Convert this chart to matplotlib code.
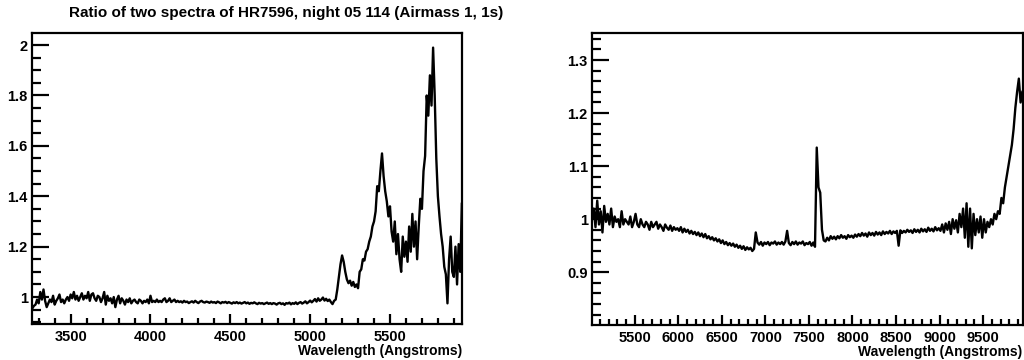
import numpy as np
import matplotlib.pyplot as plt
from matplotlib.ticker import MultipleLocator, AutoMinorLocator, FormatStrFormatter

plt.rcParams['font.family'] = ['Liberation Sans', 'DejaVu Sans']
plt.rcParams['font.weight'] = 'bold'

title = "Ratio of two spectra of HR7596, night 05 114 (Airmass 1, 1s)"
xlabel = "Wavelength (Angstroms)"

# blue part of the ratio, sampled every 10 A from 3260 to 5950
wl_blue = np.arange(3260, 5951, 10)
ratio_blue = [
    0.955, 0.965, 0.97, 0.99, 0.975, 1.02, 0.99, 1.03, 0.985, 0.96,
    0.975, 0.99, 0.98, 1.005, 0.97, 0.985, 0.995, 1.01, 0.98, 0.99,
    0.975, 0.99, 1.0, 0.985, 1.01, 0.995, 1.02, 0.99, 1.005, 0.985,
    1.0, 1.015, 0.99, 1.005, 0.995, 1.02, 0.985, 1.01, 1.015, 0.995,
    0.985, 1.005, 1.0, 0.98, 0.995, 1.02, 0.97, 1.005, 0.985, 0.995,
    0.975, 1.0, 0.96, 0.99, 1.005, 0.975, 0.995, 0.985, 0.97, 0.99,
    0.98, 0.995, 0.975, 0.985, 0.99, 0.98, 0.975, 0.99, 0.985, 0.975,
    0.985, 0.98, 0.99, 0.975, 1.005, 0.98, 0.985, 0.98, 0.99, 0.98,
    0.985, 0.98, 0.99, 0.995, 0.98, 0.985, 0.995, 0.98, 0.985, 0.99,
    0.98, 0.985, 0.98, 0.983, 0.978, 0.985, 0.98, 0.982, 0.976, 0.98,
    0.983, 0.978, 0.985, 0.98, 0.976, 0.982, 0.985, 0.98, 0.978, 0.982,
    0.98, 0.977, 0.982, 0.978, 0.98, 0.976, 0.982, 0.979, 0.975, 0.98,
    0.978, 0.981, 0.976, 0.98, 0.977, 0.974, 0.979, 0.976, 0.98, 0.975,
    0.978, 0.974, 0.977, 0.98, 0.975, 0.978, 0.973, 0.977, 0.975, 0.979,
    0.975, 0.972, 0.977, 0.974, 0.976, 0.972, 0.975, 0.978, 0.973, 0.976,
    0.972, 0.976, 0.974, 0.97, 0.975, 0.977, 0.972, 0.975, 0.969, 0.976,
    0.974, 0.978, 0.971, 0.976, 0.973, 0.979, 0.972, 0.977, 0.98, 0.974,
    0.978, 0.983, 0.975, 0.98, 0.986, 0.979, 0.985, 0.992, 0.982, 0.995,
    0.985, 0.99, 0.998, 0.986, 0.993, 0.984, 0.99, 0.98, 0.972, 0.985,
    0.99, 1.03, 1.08, 1.13, 1.165, 1.14, 1.10, 1.07, 1.055, 1.065,
    1.045, 1.06, 1.04, 1.05, 1.035, 1.10, 1.11, 1.15, 1.145, 1.18,
    1.19, 1.22, 1.24, 1.28, 1.30, 1.34, 1.44, 1.42, 1.50, 1.57,
    1.48, 1.42, 1.38, 1.32, 1.36, 1.26, 1.22, 1.30, 1.17, 1.25,
    1.15, 1.10, 1.24, 1.16, 1.22, 1.14, 1.28, 1.18, 1.33, 1.20,
    1.30, 1.15, 1.28, 1.39, 1.35, 1.50, 1.56, 1.80, 1.72, 1.88,
    1.76, 1.99, 1.80, 1.55, 1.40, 1.32, 1.25, 1.20, 1.12, 1.09,
    0.975, 1.15, 1.24, 1.10, 1.08, 1.20, 1.05, 1.21, 1.10, 1.37,
]

# red part of the ratio, sampled every 20 A from 5010 to 9950
wl_red = np.arange(5010, 9951, 20)
ratio_red = [
    1.0, 1.02, 0.985, 1.035, 0.99, 1.015, 0.975, 1.025, 0.995, 1.01,
    0.99, 1.02, 0.985, 1.005, 0.995, 1.0, 0.985, 1.015, 0.99, 1.0,
    0.995, 0.99, 1.005, 0.985, 0.995, 1.01, 0.99, 0.985, 1.0, 0.99,
    0.985, 0.995, 0.99, 0.98, 0.995, 0.985, 0.99, 0.995, 0.982, 0.99,
    0.985, 0.978, 0.99, 0.984, 0.98, 0.988, 0.978, 0.985, 0.98, 0.983,
    0.978, 0.985, 0.975, 0.982, 0.976, 0.98, 0.973, 0.978, 0.972, 0.976,
    0.97, 0.975, 0.968, 0.973, 0.966, 0.972, 0.964, 0.968, 0.962, 0.966,
    0.96, 0.964, 0.958, 0.962, 0.955, 0.96, 0.953, 0.957, 0.951, 0.955,
    0.95, 0.954, 0.948, 0.952, 0.946, 0.95, 0.944, 0.949, 0.942, 0.947,
    0.943, 0.946, 0.94, 0.944, 0.975, 0.956, 0.952, 0.957, 0.95, 0.956,
    0.953, 0.957, 0.951, 0.956, 0.954, 0.958, 0.952, 0.956, 0.953, 0.957,
    0.952, 0.958, 0.978, 0.955, 0.951, 0.957, 0.953, 0.958, 0.952, 0.956,
    0.954, 0.958, 0.951, 0.955, 0.953, 0.957, 0.95, 0.956, 0.948, 1.135,
    1.06, 1.05, 0.98, 0.96, 0.958, 0.965, 0.96, 0.968, 0.963, 0.967,
    0.962, 0.968, 0.964, 0.97, 0.965, 0.968, 0.963, 0.97, 0.966, 0.969,
    0.965, 0.971, 0.967, 0.972, 0.968, 0.974, 0.969, 0.973, 0.967, 0.975,
    0.97, 0.974, 0.969, 0.976, 0.971, 0.975, 0.97, 0.977, 0.972, 0.976,
    0.973, 0.978, 0.972, 0.977, 0.974, 0.978, 0.95, 0.979, 0.974, 0.978,
    0.975, 0.98, 0.976, 0.979, 0.974, 0.981, 0.976, 0.98, 0.975, 0.982,
    0.977, 0.981, 0.976, 0.984, 0.978, 0.982, 0.977, 0.985, 0.979, 0.983,
    0.978, 0.99, 0.975, 0.992, 0.98, 0.995, 0.972, 1.0, 0.982, 0.998,
    0.975, 1.01, 0.985, 1.02, 0.965, 1.03, 0.948, 1.02, 0.945, 1.01,
    0.97, 1.0, 0.975, 1.005, 0.965, 1.0, 0.975, 0.995, 0.985, 1.0,
    0.99, 1.01, 1.0, 1.015, 1.01, 1.04, 1.03, 1.06, 1.08, 1.10,
    1.12, 1.14, 1.17, 1.21, 1.24, 1.265, 1.22, 1.24,
]

fig = plt.figure(figsize=(10.24, 3.6), dpi=100)
ax1 = fig.add_axes([32 / 1024, 36 / 360, 430 / 1024, 291 / 360])
ax2 = fig.add_axes([592 / 1024, 35 / 360, 430.5 / 1024, 292 / 360])


def root_style(ax, xmaj, ymaj, yminor_n):
    ax.xaxis.set_major_locator(MultipleLocator(xmaj))
    ax.xaxis.set_minor_locator(AutoMinorLocator(5))
    ax.yaxis.set_major_locator(MultipleLocator(ymaj))
    ax.yaxis.set_minor_locator(AutoMinorLocator(yminor_n))
    ax.yaxis.set_major_formatter(FormatStrFormatter('%g'))
    ax.tick_params(axis='both', which='both', direction='in', width=1.6,
                   top=False, right=False, labelsize=10.5)
    ax.tick_params(axis='y', which='major', length=12.5, pad=3)
    ax.tick_params(axis='y', which='minor', length=6.5)
    ax.tick_params(axis='x', which='major', length=7, pad=4)
    ax.tick_params(axis='x', which='minor', length=4)
    for sp in ax.spines.values():
        sp.set_linewidth(1.6)
    ax.set_xlabel(xlabel, fontsize=10, fontweight='bold', loc='right', labelpad=0)
    for lab in ax.get_xticklabels() + ax.get_yticklabels():
        lab.set_fontweight('bold')


ax1.plot(wl_blue, ratio_blue, color='black', lw=1.7)
ax1.set_xlim(3258, 5951)
ax1.set_ylim(0.893, 2.048)
root_style(ax1, 500, 0.2, 4)

ax2.plot(wl_red, ratio_red, color='black', lw=1.7)
ax2.set_xlim(5010, 9952)
ax2.set_ylim(0.8005, 1.351)
root_style(ax2, 500, 0.1, 5)

fig.text(286 / 1024, 1 - 13 / 360, title, ha='center', va='center',
         fontsize=11, fontweight='bold')

fig.savefig('out.png', dpi=100)
